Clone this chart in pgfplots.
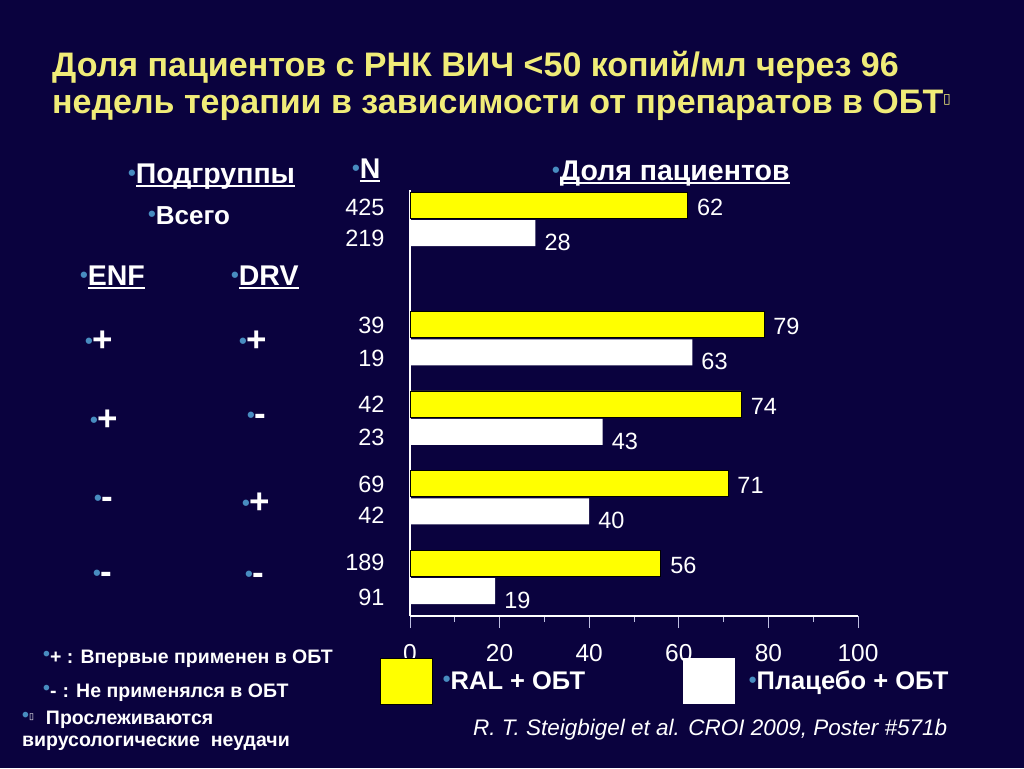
\documentclass[border=0pt]{standalone}
\usepackage{pgfplots}
\pgfplotsset{compat=1.18}
\usepackage{graphicx}
\usepackage{fontspec}
\setmainfont{Liberation Sans}
\newfontfamily\dejavu{DejaVu Sans}
\definecolor{bg}{RGB}{10,2,62}
\definecolor{titley}{RGB}{240,236,120}
\definecolor{bulb}{RGB}{72,140,192}
\definecolor{barY}{RGB}{255,255,0}
\definecolor{tickc}{RGB}{190,190,225}
\newcommand\fs[1]{\fontsize{#1}{#1}\selectfont}
\newcommand\bul{{\color{bulb}\raisebox{0.12em}{•}}}
\newcommand\sbul{{\color{bulb}\fs{22}\raisebox{0.12em}{•}}}
\newsavebox\ulbox
\newcommand\ul[1]{\sbox\ulbox{#1}\rlap{\rule[-4pt]{\wd\ulbox}{2pt}}\usebox\ulbox}
\begin{document}
\begin{tikzpicture}[x=1pt,y=-1pt]
\fill[bg] (0,0) rectangle (1024,768);
\begin{axis}[
  at={(410pt,-616pt)}, anchor=south west,
  scale only axis, width=448pt, height=426pt,
  xbar,
  xmin=0, xmax=100, ymin=-4.99, ymax=0.365,
  axis x line=bottom, axis y line=left,
  axis line style={white, line width=2pt, -},
  xtick={0,20,...,100}, minor x tick num=1,
  tick align=outside, major tick length=12pt, minor tick length=6pt,
  xtick style={tickc, line width=1pt},
  ytick={-4.75,-4.32,-3.73,-3.33,-2.74,-2.325,-1.747,-1.332,-0.238,0.151},
  yticklabels={91,189,42,69,23,42,19,39,219,425},
  ytick style={draw=none},
  /pgf/number format/assume math mode=true,
  xticklabel style={font=\fs{24.5}, text=white, yshift=-13pt},
  yticklabel style={font=\fs{23.5}, text=white, xshift=-10pt},
  bar width=0.327,
  point meta=x,
  nodes near coords,
  nodes near coords style={font=\fs{23.5}, text=white, anchor=west, inner sep=1pt, xshift=8pt, yshift=-2pt},
  legend image code/.code={\fill[#1] (0pt,-23pt) rectangle (52pt,23pt);},
  legend columns=2,
  legend style={draw=none, fill=none, inner sep=0pt, at={(-0.067,-0.153)}, anchor=west,
    font=\fs{25.5}\bfseries, text=white,
    nodes={inner sep=0pt, anchor=west},
    /tikz/every odd column/.append style={column sep=10pt}},
  clip=false,
]
\addplot[fill=barY, draw=black, line width=0.8pt, bar shift=0pt]
  coordinates {(62,0.176) (79,-1.324) (74,-2.324) (71,-3.324) (56,-4.324)};
\addplot[fill=white, draw=none, bar shift=0pt,
  nodes near coords style={yshift=-7pt}]
  coordinates {(28,-0.176) (63,-1.676) (43,-2.676) (40,-3.676) (19,-4.676)};
\legend{\makebox[240pt][l]{\sbul RAL + ОБТ}, \hspace{4pt}\sbul Плацебо + ОБТ}
\end{axis}
% title
\node[anchor=base west, text=titley, inner sep=0] at (52,77) {\fs{34}\bfseries Доля пациентов с РНК ВИЧ <50 копий/мл через 96};
\node[anchor=base west, text=titley, inner sep=0] at (52,113) {\fs{34}\bfseries недель терапии в зависимости от препаратов в ОБТ{\raisebox{10pt}{\dejavu\fs{14}\mdseries ▯}}};
% headers
\begin{scope}[every node/.style={anchor=base west, text=white, inner sep=0}]
\node at (128,183) {\fs{28.5}\bfseries\sbul\ul{Подгруппы}};
\node at (148,224) {\fs{26}\bfseries\sbul Всего};
\node at (80,285) {\fs{28.5}\bfseries\sbul\ul{ENF}};
\node at (231,285) {\fs{28.5}\bfseries\sbul\ul{DRV}};
\node at (352,178) {\fs{28.5}\bfseries\sbul\ul{N}};
\node at (552,180) {\fs{28.5}\bfseries\sbul\ul{Доля пациентов}};
% signs
\node at (85,351) {\fs{35}\bfseries\sbul+};
\node at (239,351) {\fs{35}\bfseries\sbul+};
\node at (90,430) {\fs{35}\bfseries\sbul+};
\node at (247,425) {\fs{35}\bfseries\sbul-};
\node at (94,508) {\fs{35}\bfseries\sbul-};
\node at (242,513) {\fs{35}\bfseries\sbul+};
\node at (93,583) {\fs{35}\bfseries\sbul-};
\node at (245,584) {\fs{35}\bfseries\sbul-};
% footnotes
\node at (43,663) {\fs{19.5}\bfseries\bul+ : Впервые применен в ОБТ};
\node at (43,697) {\fs{19.5}\bfseries\bul-\hspace{6pt}: Не применялся в ОБТ};
\node at (22,724) {\fs{19.5}\bfseries\bul{\raisebox{5pt}{\dejavu\fs{9}\mdseries ▯}}\hspace{12pt}Прослеживаются};
\node at (22,746) {\fs{19.5}\bfseries вирусологические\hspace{11pt}неудачи};
\node at (473,735) {\fs{22.5}\itshape R. T. Steigbigel et al. CROI 2009, Poster \#571b};
\end{scope}
\end{tikzpicture}
\end{document}
